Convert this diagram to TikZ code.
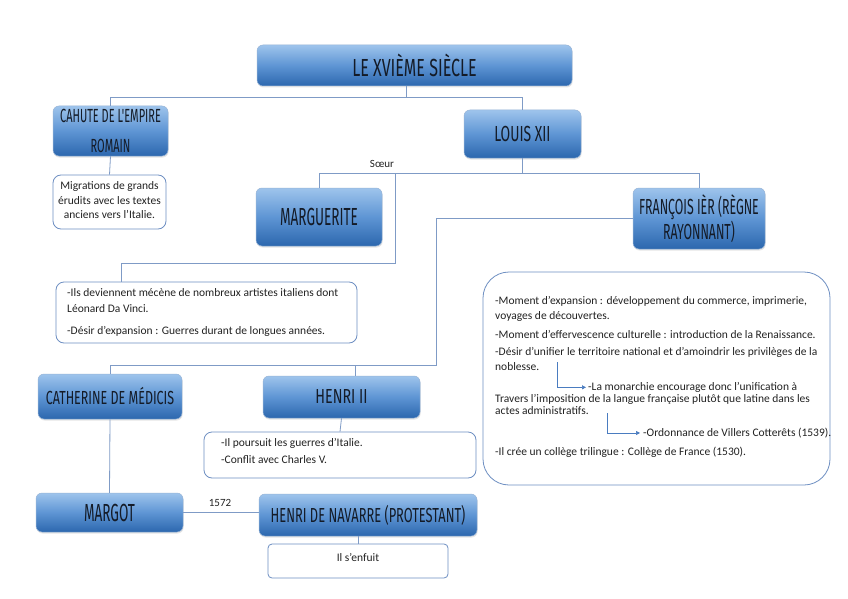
\documentclass[tikz,border=0pt]{standalone}
\usepackage{fontspec}
\setmainfont{Carlito}
\newfontfamily\hand[FakeStretch=0.55]{Fira Sans}
\usetikzlibrary{calc,arrows.meta,shadows}
\definecolor{boxtop}{HTML}{9EC4EC}
\definecolor{boxmid}{HTML}{5E95D4}
\definecolor{boxbot}{HTML}{2C67AE}
\definecolor{lineblue}{HTML}{7F9BC6}
\definecolor{edgeblue}{HTML}{6E8FC2}
\definecolor{inkdark}{HTML}{141B27}
\definecolor{bodyink}{HTML}{222222}
\definecolor{arrowblue}{HTML}{4A7CC0}
\newcommand\hsz[2]{\hand\fontsize{#1}{#2}\selectfont}
\newcommand\hx[2]{\scalebox{#1}[1]{#2}}
\begin{document}
\begin{tikzpicture}[x=1pt,y=-1pt,
  headbox/.style={rectangle, rounded corners=6pt, top color=boxtop, bottom color=boxbot, middle color=boxmid,
    draw=boxbot!50!white, line width=0.5pt, inner sep=0pt, text=inkdark, align=center,
    drop shadow={shadow xshift=0.6pt, shadow yshift=-1.5pt, opacity=0.2}},
  textbox/.style={rectangle, rounded corners=8pt, draw=edgeblue, line width=0.8pt, fill=white, inner sep=0pt},
  txt/.style={inner sep=0pt, anchor=mid west, text=bodyink, font=\fontsize{11.5}{13}\selectfont},
  ctxt/.style={inner sep=0pt, anchor=mid, text=bodyink, font=\fontsize{11.5}{13}\selectfont},
  conn/.style={draw=lineblue, line width=0.8pt},
  arr/.style={draw=arrowblue, line width=0.7pt, -{Triangle[length=4pt,width=4pt]}}
]
\useasboundingbox (0,0) rectangle (848,599);
\fill[white] (0,0) rectangle (848,599);

% heading boxes
\node[headbox, minimum width=315pt, minimum height=41pt, font=\hsz{24.7}{26}] (title) at (414.5,65.5) {\hx{1.18}{LE XVIÈME SIÈCLE}};
\node[headbox, minimum width=115pt, minimum height=50pt, font=\hsz{19}{30}] (cahute) at (110.5,131) {\hx{1.05}{CAHUTE DE L'EMPIRE}\\\hx{1.05}{ROMAIN}};
\node[headbox, minimum width=117pt, minimum height=48pt, font=\hsz{21.8}{22}] (louis) at (522.5,134) {\hx{1.16}{LOUIS XII}};
\node[headbox, minimum width=126pt, minimum height=58pt, font=\hsz{24.7}{26}] (marg) at (319,217) {MARGUERITE};
\node[headbox, minimum width=132pt, minimum height=61pt, font=\hsz{21.8}{22}] (franc) at (699,218.5) {\hx{1.03}{FRANÇOIS IÈR (RÈGNE}\\\hx{1.03}{RAYONNANT)}};
\node[headbox, minimum width=144pt, minimum height=45pt, font=\hsz{18.9}{20}] (cath) at (110,396.5) {\hx{1.2}{CATHERINE DE MÉDICIS}};
\node[headbox, minimum width=157pt, minimum height=42pt, font=\hsz{20.3}{22}] (henri2) at (341.5,397) {\hx{1.28}{HENRI II}};
\node[headbox, minimum width=147pt, minimum height=39pt, font=\hsz{24.7}{26}] (margot) at (109.5,512.5) {MARGOT};
\node[headbox, minimum width=218pt, minimum height=42pt, font=\hsz{20.3}{22}] (nav) at (368,515) {\hx{1.15}{HENRI DE NAVARRE (PROTESTANT)}};

% text boxes
\node[textbox, minimum width=113pt, minimum height=54pt] (migr) at (109.5,202) {};
\node[ctxt] (m1) at (109.5,187) {Migrations de grands};
\node[ctxt] (m2) at (109.5,202) {érudits avec les textes};
\node[ctxt] (m3) at (109.5,216) {anciens vers l’Italie.};

\node[textbox, minimum width=301pt, minimum height=61pt] (ils) at (206.5,312.5) {};
\node[txt] (i1) at (67,294) {-Ils deviennent mécène de nombreux artistes italiens dont};
\node[txt] (i2) at (67,310) {Léonard Da Vinci.};
\node[txt] (i3) at (67,332) {-Désir d’expansion : Guerres durant de longues années.};

\node[textbox, minimum width=272pt, minimum height=46pt] (pours) at (340,455) {};
\node[txt] (p1) at (221,444) {-Il poursuit les guerres d’Italie.};
\node[txt] (p2) at (221,461) {-Conflit avec Charles V.};

\node[textbox, rounded corners=4pt, minimum width=180pt, minimum height=34pt] (enfuit) at (358,561) {};
\node[ctxt] (e1) at (358,559) {Il s’enfuit};

\node[textbox, rounded corners=26pt, minimum width=347pt, minimum height=213pt] (big) at (656.5,378.5) {};
\node[txt] (b1) at (495,302) {-Moment d’expansion : développement du commerce, imprimerie,};
\node[txt] (b2) at (495,317) {voyages de découvertes.};
\node[txt] (b3) at (495,336) {-Moment d’effervescence culturelle : introduction de la Renaissance.};
\node[txt] (b4) at (495,353) {-Désir d’unifier le territoire national et d’amoindrir les privilèges de la};
\node[txt] (b5) at (495,368) {noblesse.};
\node[txt] (b6) at (588,388) {-La monarchie encourage donc l’unification à};
\node[txt] (b7) at (495,400) {Travers l’imposition de la langue française plutôt que latine dans les};
\node[txt] (b8) at (495,412) {actes administratifs.};
\node[txt] (b9) at (643,434) {-Ordonnance de Villers Cotterêts (1539).};
\node[txt] (b10) at (495,453) {-Il crée un collège trilingue : Collège de France (1530).};

% connectors
\coordinate (j1) at (406,97);
\draw[conn] (title.south -| j1) -- (j1) -| (cahute.north);
\draw[conn] (j1) -| (louis.north);
\draw[conn] (cahute.south) -- (migr.north);
\coordinate (j2) at (522,173);
\draw[conn] (louis.south -| j2) -- (j2) -| (marg.north);
\draw[conn] (j2) -| (franc.north);
\node[ctxt, font=\fontsize{11}{12}\selectfont] (soeur) at (382,165) {Sœur};
\coordinate (j3) at (395,173);
\coordinate (j4) at (121,263);
\draw[conn] (j3) |- (j4) -- (j4 |- ils.north);
\coordinate (j5) at (436,365);
\draw[conn] (franc.west) -| (j5) -| (cath.north);
\coordinate (j6) at (355,365);
\draw[conn] (j6) -- (j6 |- henri2.north);
\draw[conn] (henri2.south) -- (pours.north);
\draw[conn] (cath.south) -- (margot.north);
\draw[conn] (margot.east) -- (margot.east -| nav.west);
\node[ctxt, font=\fontsize{11}{12}\selectfont] (y1572) at (220,504) {1572};
\draw[conn] (enfuit.north) -- (enfuit.north |- nav.south);

% arrows inside big box
\coordinate (a1) at (557,362);
\draw[arr] (a1) |- ([xshift=-2pt]b6.west);
\coordinate (a2) at (607,413);
\draw[arr] (a2) |- ([xshift=-3pt]b9.west);
\end{tikzpicture}
\end{document}
